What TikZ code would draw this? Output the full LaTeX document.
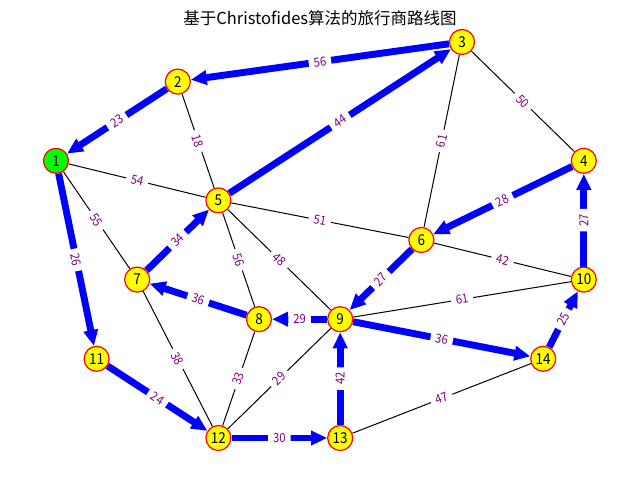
\documentclass[tikz,border=0pt]{standalone}
\usepackage{fontspec}
\setmainfont{Noto Sans CJK SC}
\newfontfamily\digitfont[FakeStretch=0.9]{Noto Sans CJK SC}
\usetikzlibrary{arrows.meta}
\pgfdeclarelayer{bg}
\pgfsetlayers{bg,main}
\definecolor{lblpurple}{RGB}{128,0,128}
\definecolor{nodeyellow}{RGB}{255,255,0}
\definecolor{nodegreen}{RGB}{0,255,0}
\definecolor{tourblue}{RGB}{0,0,255}
\tikzset{
  city/.style={circle, draw=red, line width=1.2pt, fill=nodeyellow, minimum size=25pt, inner sep=0pt, font=\digitfont\fontsize{15}{15}\selectfont},
  startcity/.style={city, fill=nodegreen},
  road/.style={black, line width=1pt},
  tour/.style={tourblue, line width=6.9pt, -{Triangle[length=16pt,width=14pt]}},
  wlabel/.style={sloped, fill=white, text=lblpurple, rounded corners=3pt, inner xsep=5pt, inner ysep=3.5pt, font=\digitfont\fontsize{12.5}{13}\selectfont},
}
\begin{document}
\begin{tikzpicture}[x=1pt,y=-1pt]
\useasboundingbox (0,0) rectangle (640,480);
\node[font=\fontsize{16.5}{18}\selectfont] (title) at (320,18) {基于Christofides算法的旅行商路线图};
% cities
\node[startcity] (n1) at (56,160.8) {1};
\node[city] (n2) at (177.8,81.6) {2};
\node[city] (n3) at (462,42) {3};
\node[city] (n4) at (583.8,160.8) {4};
\node[city] (n5) at (218.4,200.4) {5};
\node[city] (n6) at (421.4,240) {6};
\node[city] (n7) at (137.2,279.6) {7};
\node[city] (n8) at (259,319.2) {8};
\node[city] (n9) at (340.2,319.2) {9};
\node[city] (n10) at (583.8,279.6) {10};
\node[city] (n11) at (96.6,358.8) {11};
\node[city] (n12) at (218.4,438) {12};
\node[city] (n13) at (340.2,438) {13};
\node[city] (n14) at (543.2,358.8) {14};
\begin{pgfonlayer}{bg}
% roads
\draw[road] (n1) -- (n5);
\draw[road] (n1) -- (n7);
\draw[road] (n2) -- (n5);
\draw[road] (n3) -- (n6);
\draw[road] (n3) -- (n4);
\draw[road] (n5) -- (n6);
\draw[road] (n5) -- (n8);
\draw[road] (n5) -- (n9);
\draw[road] (n6) -- (n10);
\draw[road] (n9) -- (n10);
\draw[road] (n7) -- (n12);
\draw[road] (n8) -- (n12);
\draw[road] (n9) -- (n12);
\draw[road] (n13) -- (n14);
% tour
\draw[tour] (n3) -- (n2);
\draw[tour] (n2) -- (n1);
\draw[tour] (n1) -- (n11);
\draw[tour] (n11) -- (n12);
\draw[tour] (n12) -- (n13);
\draw[tour] (n13) -- (n9);
\draw[tour] (n9) -- (n14);
\draw[tour] (n14) -- (n10);
\draw[tour] (n10) -- (n4);
\draw[tour] (n4) -- (n6);
\draw[tour] (n6) -- (n9);
\draw[tour] (n9) -- (n8);
\draw[tour] (n8) -- (n7);
\draw[tour] (n7) -- (n5);
\draw[tour] (n5) -- (n3);
\end{pgfonlayer}
% labels
\path (n1) -- node[wlabel] (l15) {54} (n5);
\path (n1) -- node[wlabel] (l17) {55} (n7);
\path (n2) -- node[wlabel] (l25) {18} (n5);
\path (n3) -- node[wlabel] (l36) {61} (n6);
\path (n3) -- node[wlabel] (l34) {50} (n4);
\path (n5) -- node[wlabel] (l56) {51} (n6);
\path (n5) -- node[wlabel] (l58) {56} (n8);
\path (n5) -- node[wlabel] (l59) {48} (n9);
\path (n6) -- node[wlabel] (l610) {42} (n10);
\path (n9) -- node[wlabel] (l910) {61} (n10);
\path (n7) -- node[wlabel] (l712) {38} (n12);
\path (n8) -- node[wlabel] (l812) {33} (n12);
\path (n9) -- node[wlabel] (l912) {29} (n12);
\path (n13) -- node[wlabel] (l1314) {47} (n14);
\path (n3) -- node[wlabel] (l32) {56} (n2);
\path (n2) -- node[wlabel] (l21) {23} (n1);
\path (n1) -- node[wlabel] (l111) {26} (n11);
\path (n11) -- node[wlabel] (l1112) {24} (n12);
\path (n12) -- node[wlabel] (l1213) {30} (n13);
\path (n13) -- node[wlabel] (l139) {42} (n9);
\path (n9) -- node[wlabel] (l914) {36} (n14);
\path (n14) -- node[wlabel] (l1410) {25} (n10);
\path (n10) -- node[wlabel] (l104) {27} (n4);
\path (n4) -- node[wlabel] (l46) {28} (n6);
\path (n6) -- node[wlabel] (l69) {27} (n9);
\path (n9) -- node[wlabel] (l98) {29} (n8);
\path (n8) -- node[wlabel] (l87) {36} (n7);
\path (n7) -- node[wlabel] (l75) {34} (n5);
\path (n5) -- node[wlabel] (l53) {44} (n3);
\end{tikzpicture}
\end{document}
